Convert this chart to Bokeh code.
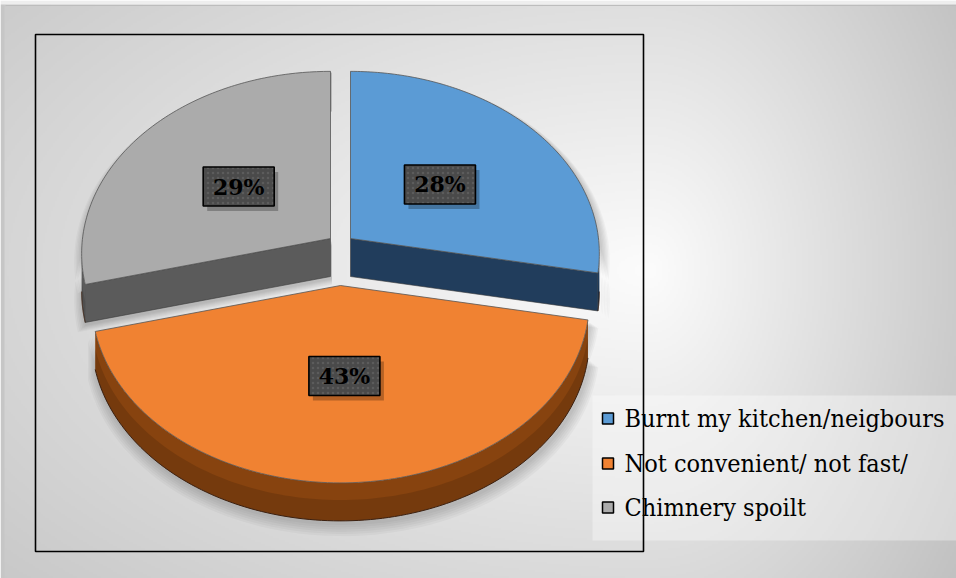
import math
import numpy as np
from bokeh.plotting import figure
from bokeh.core.properties import value
from bokeh.embed import file_html
from bokeh.resources import INLINE

# ---------------- data ----------------
categories = ["Burnt my kitchen/neigbours", "Not convenient/ not fast/", "Chimnery spoilt"]
shares = [28, 43, 29]
pct_labels = ["28%", "43%", "29%"]
top_colors = ["#5B9BD5", "#F08232", "#ABABAB"]
side_colors = ["#213D5C", "#87430F", "#5B5B5B"]

# ---------------- geometry / style ----------------
W_PX, H_PX = 956, 578
CX, CY = 340, 261          # pie centre (screen px)
A, B, P = 248, 181, 0.083  # horizontal radius, vertical radius, perspective
DEPTH = 38
EXPLODE = [(10, -23), (0, 24), (-10, -23)]
TL = math.degrees(math.acos(-P))
TR = 360 - TL
LABEL_FONT = value("DejaVu Serif")
LEGEND_FONT = value("DejaVu Serif Condensed")


def Y(ys):
    return H_PX - ys


def proj(theta, r, ox, oy):
    t = math.radians(theta)
    w = 1 + P * r * math.cos(t)
    xs = CX + ox + A * r * math.sin(t) / w
    ys = CY + oy - B * r * math.cos(t) / w
    return xs, ys


p = figure(width=W_PX, height=H_PX, x_range=(0, W_PX), y_range=(0, H_PX),
           output_backend="svg", toolbar_location=None, min_border=0,
           x_axis_type=None, y_axis_type=None)
p.outline_line_color = None
p.background_fill_color = "#ffffff"
p.border_fill_color = "#ffffff"

# ---------------- background gradient ----------------
nx, ny = W_PX // 2, H_PX // 2
xs_g = (np.arange(nx) + 0.5) * 2
ys_g = H_PX - (np.arange(ny) + 0.5) * 2
XX, YY = np.meshgrid(xs_g, ys_g)
dx = XX - 650
dx = np.where(dx > 0, dx / 330.0, dx / 880.0)
dy = (YY - 270) / 470.0
d = np.sqrt(dx ** 2 + dy ** 2)
g = np.clip(252 - 52 * d, 185, 252)
g = np.where(XX < 5, 198, g)
g = np.where(YY < 5, 238, g)
g = g.astype(np.uint32)
img = (255 << 24) | (g << 16) | (g << 8) | g
p.image_rgba(image=[img.astype(np.uint32)], x=0, y=0, dw=W_PX, dh=H_PX)
p.line(x=[5, W_PX], y=[Y(5), Y(5)], line_color="#bdbdbd", line_width=1)

# ---------------- legend background ----------------
p.quad(left=592, right=W_PX, bottom=Y(540), top=Y(395), fill_color="#ffffff",
       fill_alpha=0.35, line_color=None)

# ---------------- frame ----------------
p.quad(left=35, right=643, bottom=Y(551), top=Y(34), fill_color=None,
       line_color="#000000", line_width=1.6)

# ---------------- pie ----------------
total = float(sum(shares))
ends = list(np.cumsum(shares) / total * 360.0)
starts = [0.0] + ends[:-1]
mids = [(s + e) / 2 for s, e in zip(starts, ends)]

# soft shadows
for i in range(len(shares)):
    ox, oy = EXPLODE[i]
    t0, t1 = starts[i], ends[i]
    ts = np.linspace(t0, t1, 80)
    top = [proj(t, 1, ox, oy) for t in ts]
    bot = [(x, y + DEPTH) for x, y in top[::-1]]
    ax, ay = proj(0, 0, ox, oy)
    pts = [(ax, ay)] + top + bot + [(ax, ay + DEPTH)]
    for k in range(1, 7):
        s = 1 + 0.006 * k
        sx = [ax + (x - ax) * s + 1.5 for x, y in pts]
        sy = [Y(ay + (y - ay) * s + 2 + 0.8 * k) for x, y in pts]
        p.patch(sx, sy, fill_color="#000000", fill_alpha=0.03, line_color=None)

order = sorted(range(len(shares)), key=lambda i: -math.cos(math.radians(mids[i])))
for i in order:
    ox, oy = EXPLODE[i]
    t0, t1 = starts[i], ends[i]
    ax, ay = proj(0, 0, ox, oy)
    # radial faces
    for t, vis in ((t0, math.sin(math.radians(t0)) < -1e-6),
                   (t1, math.sin(math.radians(t1)) > 1e-6)):
        if vis:
            ex, ey = proj(t, 1, ox, oy)
            p.patch([ax, ex, ex, ax], [Y(ay), Y(ey), Y(ey + DEPTH), Y(ay + DEPTH)],
                    fill_color=side_colors[i], line_color="#3a3a3a", line_width=0.6)
    # outer curved side
    lo, hi = max(t0, TL), min(t1, TR)
    if hi > lo:
        tp = [proj(t, 1, ox, oy) for t in np.linspace(lo, hi, 120)]
        xs = [x for x, y in tp] + [x for x, y in tp[::-1]]
        ys = [Y(y) for x, y in tp] + [Y(y + DEPTH) for x, y in tp[::-1]]
        p.patch(xs, ys, fill_color=side_colors[i], line_color=None)
        ys2 = [Y(y + DEPTH * 0.45) for x, y in tp] + [Y(y + DEPTH) for x, y in tp[::-1]]
        p.patch(xs, ys2, fill_color="#000000", fill_alpha=0.13, line_color=None)
        p.line([x for x, y in tp], [Y(y + DEPTH) for x, y in tp],
               line_color="#3b2010", line_width=1)
    # top
    ts = np.linspace(t0, t1, 120)
    arc = [proj(t, 1, ox, oy) for t in ts]
    xs = [ax] + [x for x, y in arc]
    ys = [Y(ay)] + [Y(y) for x, y in arc]
    p.patch(xs, ys, fill_color=top_colors[i], line_color="#555555", line_width=0.8)

# ---------------- data labels ----------------
LR = 0.48
lx, ly = [], []
for i in range(len(shares)):
    ox, oy = EXPLODE[i]
    x, y = proj(mids[i], LR, ox, oy)
    lx.append(x)
    ly.append(Y(y))
p.rect(x=[x + 4 for x in lx], y=[y - 5 for y in ly], width=71, height=39,
       width_units="screen", height_units="screen",
       fill_color="#000000", fill_alpha=0.25, line_color=None)
p.rect(x=lx, y=ly, width=71, height=39, width_units="screen", height_units="screen",
       fill_color="#4a4a4a", line_color="#000000", line_width=1.6,
       hatch_pattern=".", hatch_color="#5c5c5c", hatch_scale=5, hatch_weight=1)
p.text(x=lx, y=ly, text=pct_labels, text_font=LABEL_FONT,
       text_font_style="bold", text_font_size="22px", text_color="#000000",
       text_align="center", text_baseline="middle")

# ---------------- legend ----------------
leg_y = [Y(418), Y(463), Y(507)]
p.rect(x=[607.5] * 3, y=leg_y, width=11, height=11, width_units="screen",
       height_units="screen", fill_color=top_colors, line_color="#000000",
       line_width=1.5)
p.text(x=[624] * 3, y=leg_y, text=categories, text_font=LEGEND_FONT,
       text_font_size="25px", text_color="#000000", text_align="left",
       text_baseline="middle")

open("out.html", "w").write(file_html(p, INLINE))
